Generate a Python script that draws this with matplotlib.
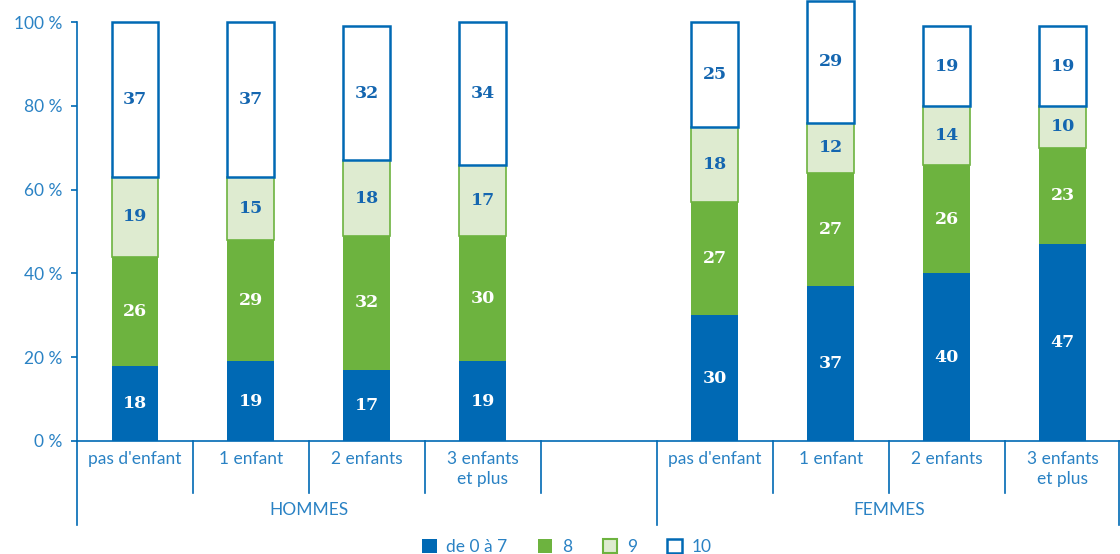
import numpy as np
import matplotlib.pyplot as plt
from matplotlib.patches import Patch

groups = ["HOMMES", "FEMMES"]
categories = ["pas d'enfant", "1 enfant", "2 enfants", "3 enfants\net plus"]
series_names = ["de 0 à 7", "8", "9", "10"]

# shares (%) per bar, HOMMES then FEMMES
s_0_7 = [18, 19, 17, 19, 30, 37, 40, 47]
s_8 = [26, 29, 32, 30, 27, 27, 26, 23]
s_9 = [19, 15, 18, 17, 18, 12, 14, 10]
s_10 = [37, 37, 32, 34, 25, 29, 19, 19]

yticks = [0, 20, 40, 60, 80, 100]

blue = "#0069b4"
green = "#6db33f"
light = "#deebd0"
txt = "#2a82c4"

plt.rcParams['font.family'] = ['Lato', 'DejaVu Sans']

fig = plt.figure(figsize=(11.2, 5.54), dpi=100)
ax = fig.add_axes([0.06875, 0.204, 0.932, 0.756])

# 4 bars, an empty slot, 4 bars
xpos = np.array([0, 1, 2, 3, 5, 6, 7, 8])
w = 0.405

styles = [
    dict(color=blue, edgecolor=blue, lw=0),
    dict(color=green, edgecolor=green, lw=0),
    dict(color=light, edgecolor=green, lw=1.2),
    dict(color="white", edgecolor=blue, lw=1.8),
]
label_col = ["white", "white", "#1466b0", "#1466b0"]

bottom = np.zeros(len(xpos))
for vals, st, lc in zip([s_0_7, s_8, s_9, s_10], styles, label_col):
    vals = np.array(vals, dtype=float)
    ax.bar(xpos, vals, w, bottom=bottom, color=st["color"],
           edgecolor=st["edgecolor"], linewidth=st["lw"], clip_on=False, zorder=2)
    for x, b, v in zip(xpos, bottom, vals):
        ax.text(x, b + v / 2, f"{v:.0f}", ha="center", va="center",
                color=lc, fontsize=12.5, fontweight="bold",
                family="DejaVu Serif", zorder=3)
    bottom += vals

ax.set_xlim(-0.5, 8.5)
ax.set_ylim(0, 100)
ax.set_yticks(yticks)
ax.set_yticklabels([f"{t} %" for t in yticks])
ax.set_xticks([])
ax.tick_params(axis="y", colors=blue, labelcolor=txt, labelsize=12.5,
               length=4.5, width=1.2, direction="out", pad=6)
for s in ["top", "right"]:
    ax.spines[s].set_visible(False)
ax.spines["left"].set_color(blue)
ax.spines["bottom"].set_color(blue)
ax.spines["left"].set_linewidth(1.2)
ax.spines["bottom"].set_linewidth(1.2)

tr = ax.get_xaxis_transform()
# short dividers between categories, long ones between groups
for xs in [0.5, 1.5, 2.5, 3.5, 5.5, 6.5, 7.5]:
    ax.plot([xs, xs], [0, -0.124], transform=tr, color=blue, lw=1.2, clip_on=False)
for xs in [-0.5, 4.5, 8.48]:
    ax.plot([xs, xs], [0, -0.2], transform=tr, color=blue, lw=1.2, clip_on=False)

for x, lab in zip(xpos, categories * 2):
    ax.text(x, -0.024, lab, transform=tr, ha="center", va="top",
            color=txt, fontsize=12.5, linespacing=1.3)
for x, g in zip([1.5, 6.5], groups):
    ax.text(x, -0.165, g, transform=tr, ha="center", va="center",
            color=txt, fontsize=12.5)

handles = [Patch(facecolor=blue, edgecolor=blue, linewidth=0),
           Patch(facecolor=green, edgecolor=green, linewidth=0),
           Patch(facecolor=light, edgecolor=green, linewidth=1.5),
           Patch(facecolor="white", edgecolor=blue, linewidth=1.8)]
leg = fig.legend(handles, series_names, loc="lower center", ncol=4,
                 bbox_to_anchor=(0.506, -0.03), frameon=False,
                 handlelength=0.85, handleheight=0.85, handletextpad=0.55,
                 columnspacing=1.75, fontsize=12.5)
for t in leg.get_texts():
    t.set_color(txt)

fig.savefig("out.png", dpi=100)
